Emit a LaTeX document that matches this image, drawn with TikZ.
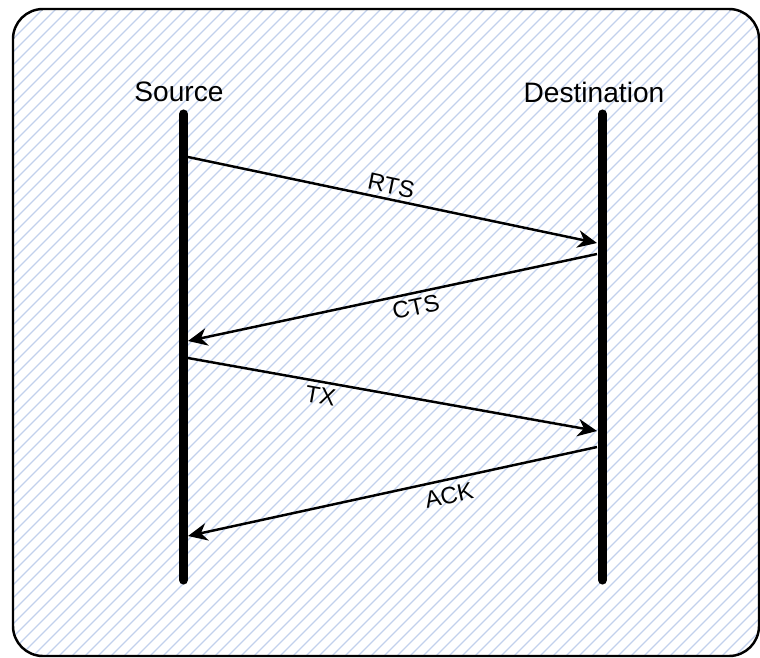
\documentclass[tikz,border=0pt]{standalone}
\usepackage{fontspec}
\setmainfont{Liberation Sans}
\usetikzlibrary{arrows.meta,positioning}
\definecolor{hatchblue}{RGB}{194,209,236}

\begin{document}
\begin{tikzpicture}[
    x=0.02cm, y=-0.02cm,
    frame/.style={draw=black, line width=1.4pt, rounded corners=0.6cm},
    hatch/.style={draw=hatchblue, line width=0.65pt},
    actor/.style={font=\fontsize{16}{19}\selectfont, inner sep=0pt},
    lifeline/.style={line width=5.2pt, line cap=round},
    msg/.style={line width=1.4pt, -{Stealth[length=11pt, width=10pt, inset=3.5pt]}},
    msglabel/.style={font=\fontsize{13.5}{16}\selectfont, sloped, inner sep=2.5pt}
  ]
  \useasboundingbox (0,0) rectangle (760,657);

  % Hintergrund
  \begin{scope}
    \clip[rounded corners=0.6cm] (13,9) rectangle (759,656);
    \foreach \i in {-660,-647,...,760}
      \draw[hatch] (\i,660) -- ++(660,-660);
  \end{scope}
  \draw[frame] (13,9) rectangle (759,656);

  % Teilnehmer
  \node[actor] (src) at (179,92) {Source};
  \node[actor] (dst) at (594,92) {Destination};

  \coordinate (src top) at (183.5,114);
  \coordinate (src bot) at (183.5,580);
  \coordinate (dst top) at (602.5,114);
  \coordinate (dst bot) at (602.5,580);
  \draw[lifeline] (src top) -- (src bot);
  \draw[lifeline] (dst top) -- (dst bot);

  % Nachrichten
  \coordinate (rts a) at (188,157);
  \coordinate (rts b) at (597,243);
  \coordinate (cts a) at (597,254);
  \coordinate (cts b) at (188,341);
  \coordinate (tx a) at (188,358);
  \coordinate (tx b) at (597,431);
  \coordinate (ack a) at (597,447);
  \coordinate (ack b) at (188,536);

  \draw[msg] (rts a) -- node[msglabel, above, pos=0.49] {RTS} (rts b);
  \draw[msg] (cts a) -- node[msglabel, below, pos=0.45] {CTS} (cts b);
  \draw[msg] (tx a) -- node[msglabel, below, pos=0.33] {TX} (tx b);
  \draw[msg] (ack a) -- node[msglabel, below=1pt, pos=0.37] {ACK} (ack b);
\end{tikzpicture}
\end{document}
